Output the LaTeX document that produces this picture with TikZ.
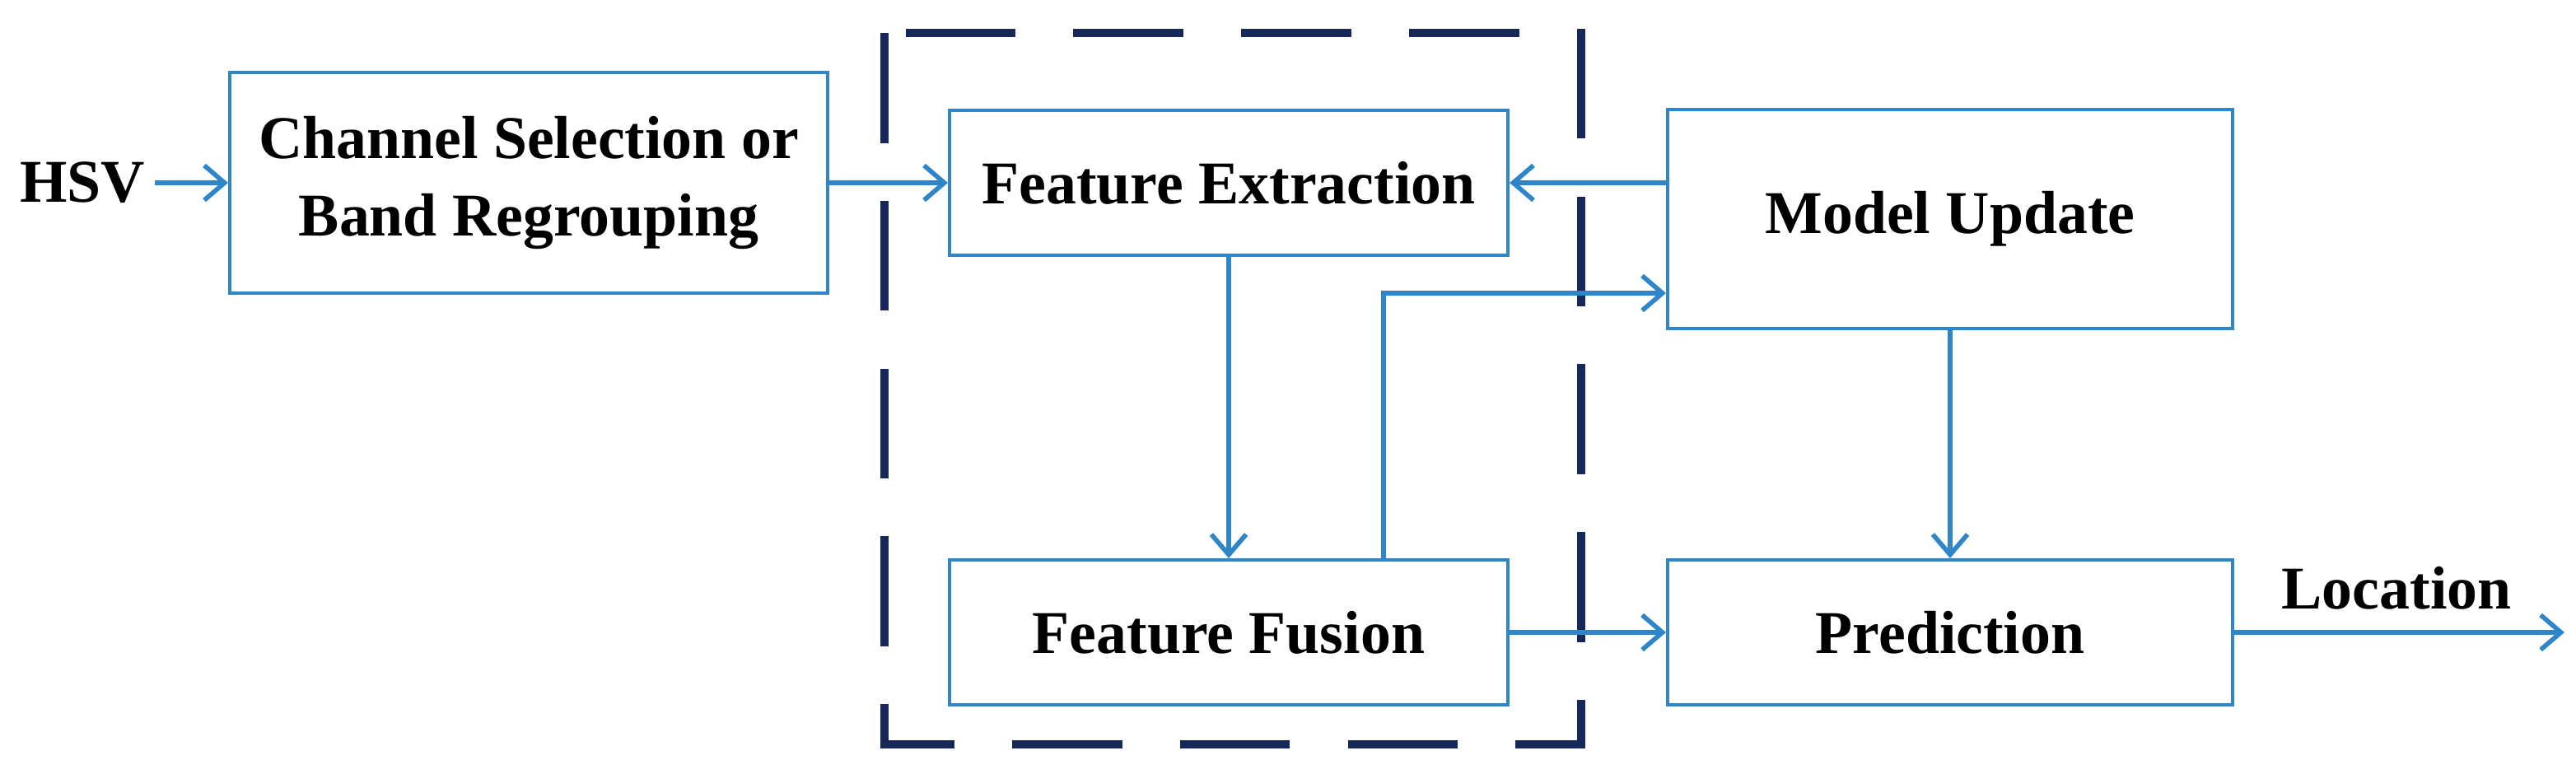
\documentclass[tikz,border=0pt]{standalone}
\usepackage{fontspec}
\setmainfont{Liberation Serif}
\usetikzlibrary{arrows.meta}
\definecolor{boxblue}{RGB}{46,134,200}
\definecolor{navy}{RGB}{22,40,90}
\begin{document}
\begin{tikzpicture}[x=0.02cm,y=-0.02cm]

			\tikzstyle{block}=[draw=boxblue,line width=1.2pt,
				inner sep=0pt,align=center,
				font=\fontsize{21}{27}\selectfont\bfseries]
			\tikzstyle{flow}=[draw=boxblue,line width=1.6pt,-{Straight Barb[length=7pt,width=12pt]}]

			\useasboundingbox (0,0) rectangle (1564,469.5);

			\draw[navy,line width=2.6pt,dash pattern=on 38pt off 20pt]
				(537,20) rectangle (960,452);

			\node[block,minimum width=7.26cm,minimum height=2.68cm]	(chan)	at (321,111)	{Channel Selection or\\Band Regrouping};
			\node[block,minimum width=6.78cm,minimum height=1.76cm]	(extr)	at (746,111)	{Feature Extraction};
			\node[block,minimum width=6.86cm,minimum height=2.66cm]	(upd)	at (1184,133)	{Model Update};
			\node[block,minimum width=6.78cm,minimum height=1.76cm]	(fus)	at (746,384)	{Feature Fusion};
			\node[block,minimum width=6.86cm,minimum height=1.76cm]	(pred)	at (1184,384)	{Prediction};

			\node[font=\fontsize{21}{27}\selectfont\bfseries]	(hsv)	at (50,111)	{HSV};
			\node[font=\fontsize{21}{27}\selectfont\bfseries]	(loc)	at (1455,357)	{Location};
			\coordinate (out) at (1557,384);

			\draw[flow] (hsv.east) -- (chan.west);
			\draw[flow] (chan.east) -- (extr.west);
			\draw[flow] (upd.west |- extr.east) -- (extr.east);
			\draw[flow] (extr.south) -- (fus.north);
			\draw[flow] (fus.north -| 840,0) |- (upd.west |- 0,178);
			\draw[flow] (fus.east) -- (pred.west);
			\draw[flow] (upd.south) -- (pred.north);
			\draw[flow] (pred.east) -- (out);

\end{tikzpicture}
\end{document}
